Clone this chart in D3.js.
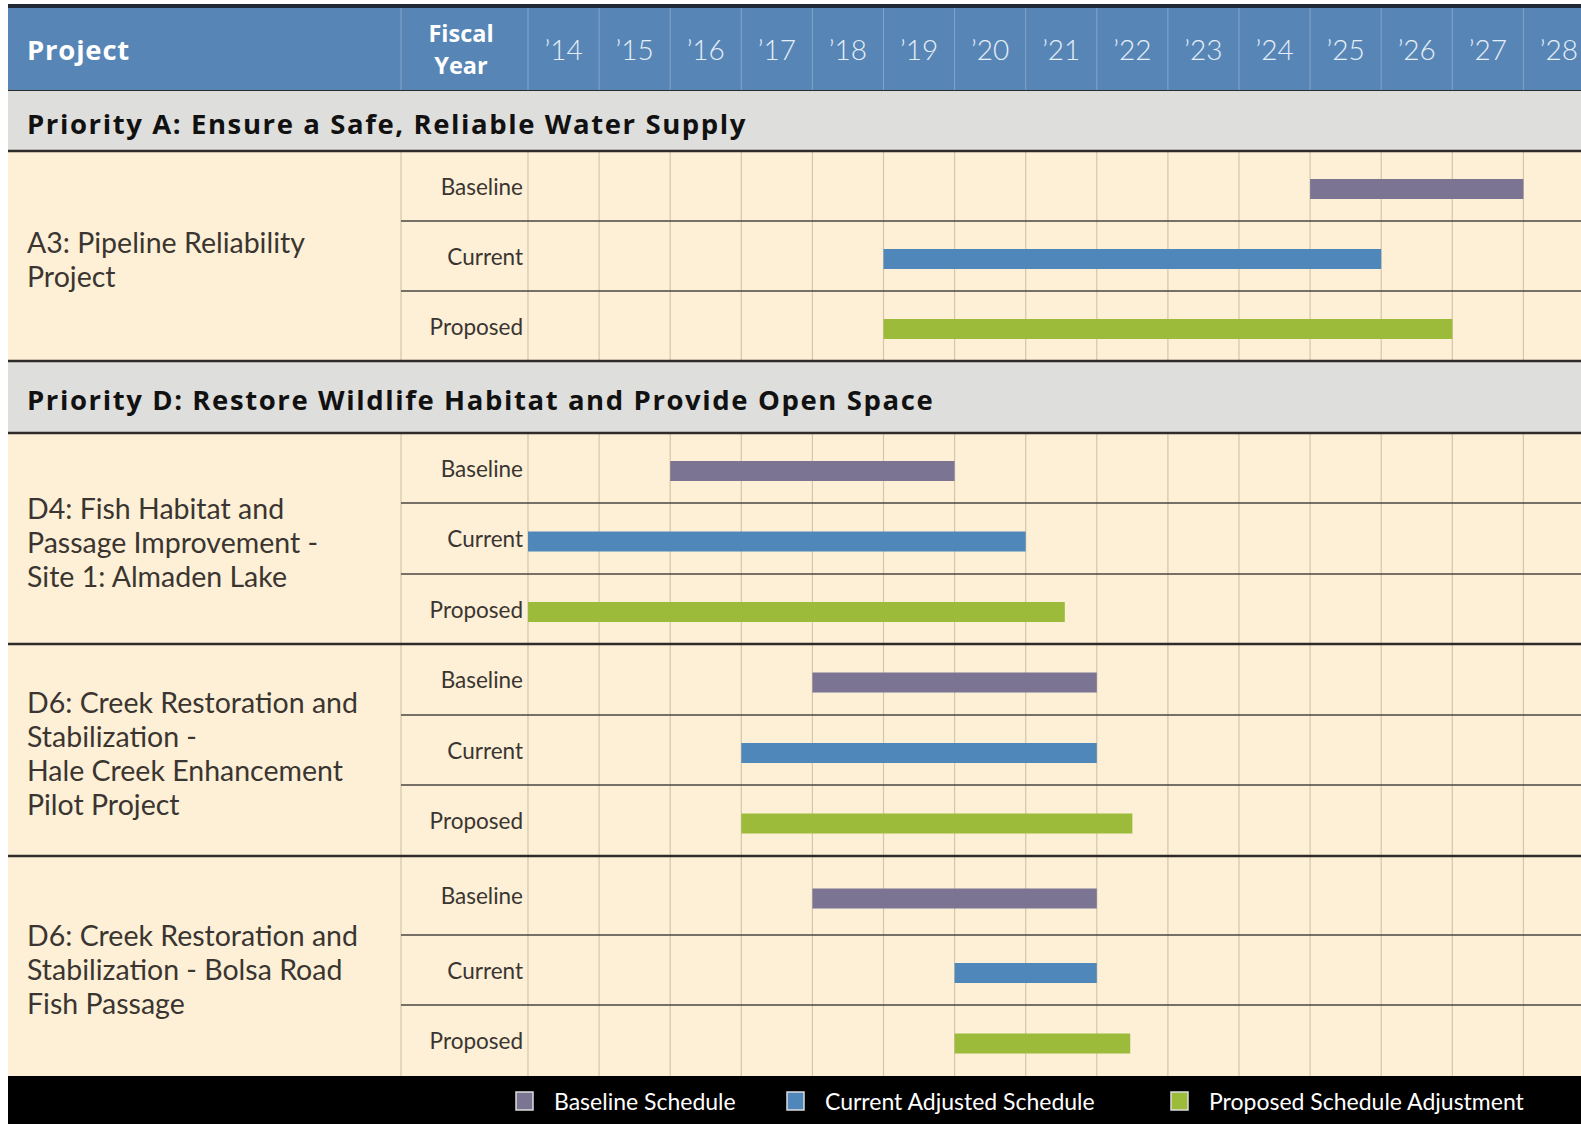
<!DOCTYPE html>
<html>
<head>
<meta charset="utf-8">
<script src="https://cdn.jsdelivr.net/npm/d3@7"></script>
<style>
  html, body { margin: 0; padding: 0; background: #fff; }
  svg { display: block; font-family: Lato, "Open Sans", sans-serif; }
  .heavy-font { font-family: "Open Sans", Lato, sans-serif; font-weight: 700; }
</style>
</head>
<body>
<div id="chart"></div>
<script>
// Fiscal years shown in the header
const yearLabels = ["\u201914", "\u201915", "\u201916", "\u201917", "\u201918", "\u201919", "\u201920",
    "\u201921", "\u201922", "\u201923", "\u201924", "\u201925", "\u201926", "\u201927", "\u201928"];
const firstYear = 2014;

const phases = ["Baseline", "Current", "Proposed"];
const legendLabels = ["Baseline Schedule", "Current Adjusted Schedule", "Proposed Schedule Adjustment"];

const priorities = [
    "Priority A: Ensure a Safe, Reliable Water Supply",
    "Priority D: Restore Wildlife Habitat and Provide Open Space"
];

// project name lines, and the priority each belongs to
const projectNames = [
    ["A3: Pipeline Reliability", "Project"],
    ["D4: Fish Habitat and", "Passage Improvement  -", "Site 1: Almaden Lake"],
    ["D6: Creek Restoration and", "Stabilization -", "Hale Creek Enhancement", "Pilot Project"],
    ["D6: Creek Restoration and", "Stabilization - Bolsa Road", "Fish Passage"]
];
const projectPriority = [0, 1, 1, 1];

// schedule start / end (fiscal year) for Baseline, Current, Proposed
const startYears = [
    [2025, 2019, 2019],
    [2016, 2014, 2014],
    [2018, 2017, 2017],
    [2018, 2020, 2020]
];
const endYears = [
    [2028, 2026, 2027],
    [2020, 2021, 2021.55],
    [2022, 2022, 2022.5],
    [2022, 2022, 2022.47]
];

const colors = ["#7b7493", "#4f87ba", "#9dbb3b"];

const W = 1581, H = 1124;
const left = 8;
const projCol = 401, labelCol = 528;
const colW = 71.1;

const svg = d3.select("#chart").append("svg")
    .attr("width", W).attr("height", H);

const x = d3.scaleLinear()
    .domain([firstYear, firstYear + yearLabels.length])
    .range([labelCol, labelCol + colW * yearLabels.length]);

// vertical layout
const headerTop = 8, headerBottom = 91;
const bandHeights = [60, 72];
const subRowHeights = [[70, 70, 70], [70, 71, 70], [71, 70, 71], [79, 70, 71]];

let y = headerBottom;
const blocks = [];
projectNames.forEach((name, i) => {
    if (i === 0 || projectPriority[i] !== projectPriority[i - 1]) {
        const p = projectPriority[i];
        blocks.push({ type: "band", y0: y, y1: y + bandHeights[p], text: priorities[p] });
        y += bandHeights[p];
    }
    const rows = [];
    subRowHeights[i].forEach((h, k) => { rows.push({ y0: y, y1: y + h, k }); y += h; });
    blocks.push({ type: "project", index: i, y0: rows[0].y0, y1: y, rows });
});
const legendTop = y;

// header
svg.append("rect").attr("x", left).attr("y", headerTop - 4).attr("width", W - left).attr("height", 4).attr("fill", "#1f2a36");
svg.append("rect").attr("x", left).attr("y", headerTop).attr("width", W - left).attr("height", headerBottom - headerTop).attr("fill", "#5786b6");
svg.append("text").attr("class", "heavy-font").text("Project").attr("x", 27).attr("y", 49)
    .attr("dominant-baseline", "central").attr("fill", "#fff").attr("font-size", 27.5)
    .attr("letter-spacing", 0.8);
svg.selectAll(".fy").data(["Fiscal", "Year"]).join("text")
    .attr("class", "heavy-font")
    .attr("x", 461).attr("y", (d, i) => i ? 65 : 33)
    .attr("text-anchor", "middle").attr("dominant-baseline", "central")
    .attr("fill", "#fff").attr("font-size", 23.5)
    .text(d => d);

const headerLines = [projCol, labelCol].concat(d3.range(1, yearLabels.length).map(i => x(firstYear + i)));
svg.selectAll(".hline").data(headerLines).join("line")
    .attr("x1", d => d).attr("x2", d => d).attr("y1", headerTop).attr("y2", headerBottom)
    .attr("stroke", "#82a6cb").attr("stroke-width", 1);
svg.selectAll(".year").data(yearLabels).join("text")
    .attr("x", (d, i) => x(firstYear + i + 0.5)).attr("y", 49)
    .attr("text-anchor", "middle").attr("dominant-baseline", "central")
    .attr("fill", "#e6eef7").attr("font-weight", 300).attr("font-size", 28)
    .text(d => d);
svg.append("line").attr("x1", left).attr("x2", W).attr("y1", headerBottom).attr("y2", headerBottom)
    .attr("stroke", "#2b2b2b").attr("stroke-width", 2);

// bands and project blocks
blocks.forEach(b => {
    if (b.type === "band") {
        svg.append("rect").attr("x", left).attr("y", b.y0).attr("width", W - left).attr("height", b.y1 - b.y0).attr("fill", "#dededc");
        svg.append("text").attr("class", "heavy-font").text(b.text).attr("x", 27).attr("y", (b.y0 + b.y1) / 2 + 2)
            .attr("dominant-baseline", "central").attr("fill", "#111").attr("font-size", 27.5)
            .attr("letter-spacing", 1.6);
        return;
    }
    const i = b.index;
    const g = svg.append("g");
    g.append("rect").attr("x", left).attr("y", b.y0).attr("width", W - left).attr("height", b.y1 - b.y0).attr("fill", "#fdf0d7");

    // year grid
    g.selectAll(".grid").data(d3.range(1, yearLabels.length)).join("line")
        .attr("x1", d => x(firstYear + d)).attr("x2", d => x(firstYear + d))
        .attr("y1", b.y0).attr("y2", b.y1)
        .attr("stroke", "#d3c7a7").attr("stroke-width", 1.2);
    [projCol, labelCol].forEach(v => g.append("line").attr("x1", v).attr("x2", v)
        .attr("y1", b.y0).attr("y2", b.y1).attr("stroke", "#d3c7a7").attr("stroke-width", 1.2));

    // sub-row separators
    g.selectAll(".sep").data(b.rows.slice(1)).join("line")
        .attr("x1", projCol).attr("x2", W).attr("y1", d => d.y0).attr("y2", d => d.y0)
        .attr("stroke", "#4a4640").attr("stroke-width", 1.5);

    // phase labels
    g.selectAll(".phase").data(b.rows).join("text")
        .attr("x", 523).attr("y", d => (d.y0 + d.y1) / 2)
        .attr("text-anchor", "end").attr("dominant-baseline", "central")
        .attr("fill", "#3a3530").attr("font-size", 22.5)
        .text(d => phases[d.k]);

    // bars
    g.selectAll(".bar").data(b.rows).join("rect")
        .attr("x", d => x(startYears[i][d.k]))
        .attr("width", d => x(endYears[i][d.k]) - x(startYears[i][d.k]))
        .attr("y", d => (d.y0 + d.y1) / 2 - 7)
        .attr("height", 20)
        .attr("fill", d => colors[d.k]);

    // project name
    const lines = projectNames[i];
    const cy = (b.y0 + b.y1) / 2 + 3;
    g.append("text").attr("x", 27).attr("y", cy - (lines.length - 1) * 17)
        .attr("dominant-baseline", "central").attr("fill", "#3a3530").attr("font-size", 28.5)
        .selectAll("tspan").data(lines).join("tspan")
        .attr("x", 27).attr("dy", (d, k) => k ? 34 : 0).text(d => d);
});

// heavy separators between sections
const heavy = blocks.map(b => b.y0).filter(v => v > headerBottom);
svg.selectAll(".heavy").data(heavy).join("line")
    .attr("x1", left).attr("x2", W).attr("y1", d => d).attr("y2", d => d)
    .attr("stroke", "#2e2b28").attr("stroke-width", 2.5);

// legend
svg.append("rect").attr("x", left).attr("y", legendTop).attr("width", W - left).attr("height", H - legendTop).attr("fill", "#000");
const legendX = [516, 787, 1171];
const legendMid = (legendTop + H) / 2 + 1;
const leg = svg.selectAll(".leg").data(legendLabels).join("g")
    .attr("transform", (d, i) => `translate(${legendX[i]},${legendMid})`);
leg.append("rect").attr("x", 0).attr("y", -9).attr("width", 17).attr("height", 18)
    .attr("fill", (d, i) => colors[i]).attr("stroke", "#ddd").attr("stroke-width", 1.5);
leg.append("text").attr("x", 38).attr("y", 0).attr("dominant-baseline", "central")
    .attr("fill", "#fff").attr("font-size", 23).text(d => d);
</script>
</body>
</html>
